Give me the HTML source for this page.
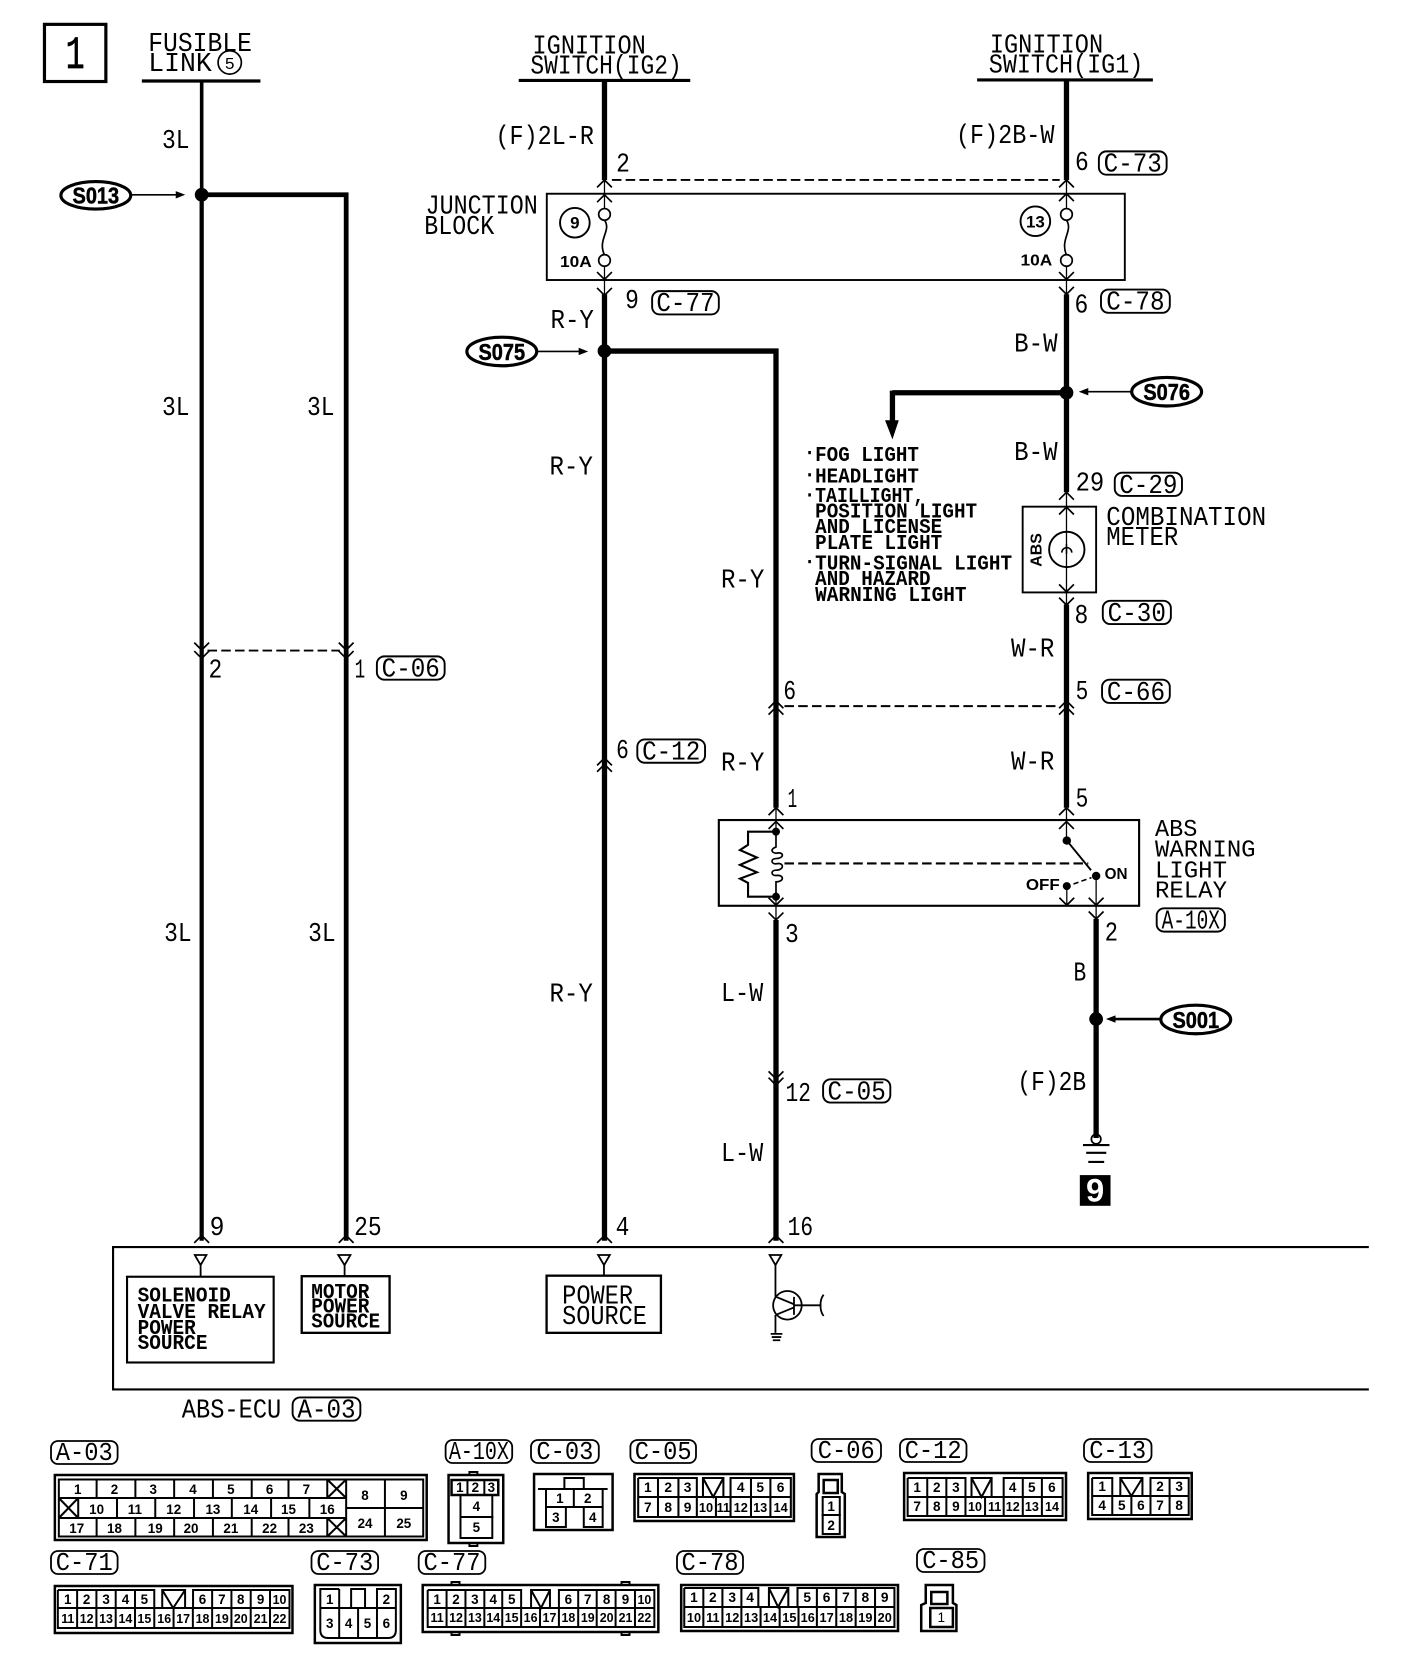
<!DOCTYPE html>
<html><head><meta charset="utf-8"><title>ABS wiring diagram</title>
<style>
html,body{margin:0;padding:0;background:#fff}
svg{display:block}
text{font-family:"Liberation Mono",monospace;fill:#000}
.n{font-family:"Liberation Sans",sans-serif;font-weight:700;font-size:13.5px;text-anchor:middle}
.b{font-family:"Liberation Sans",sans-serif;font-weight:700}
.sp{stroke:#000;stroke-width:.5px}
.w{fill:none;stroke:#000}
.badge{fill:none;stroke:#000;stroke-width:1.8}
.f{font-size:25px}
.s{font-size:20px;font-weight:700}
.c{text-anchor:middle}
.t{font-size:12.5px}
</style></head><body>
<svg xmlns="http://www.w3.org/2000/svg" width="1408" height="1662" viewBox="0 0 1408 1662">
<rect width="1408" height="1662" fill="#fff"/>
<g transform="scale(1.05865)">
<rect x="42" y="23" width="58" height="54" class="w" stroke-width="3"/>
<text x="71" y="64" class="c" style="font-size:44px;stroke:#000;stroke-width:.6px" textLength="18" lengthAdjust="spacingAndGlyphs">1</text>
<path class="w" stroke-width="3" d="M134 76.5H246M490 76H652M923 75.5H1089"/>
<text class="f" x="140" y="48" textLength="98" lengthAdjust="spacingAndGlyphs">FUSIBLE</text>
<text class="f" x="140" y="67" textLength="60" lengthAdjust="spacingAndGlyphs">LINK</text>
<circle cx="217" cy="59" r="11" class="w" stroke-width="1.6"/>
<text x="217" y="65" class="c" style="font-size:16px">5</text>
<text class="f" x="503" y="50.500" textLength="107" lengthAdjust="spacingAndGlyphs">IGNITION</text>
<text class="f" x="501" y="69.500" textLength="143" lengthAdjust="spacingAndGlyphs">SWITCH(IG2)</text>
<text class="f" x="935" y="49.500" textLength="107" lengthAdjust="spacingAndGlyphs">IGNITION</text>
<text class="f" x="934" y="68.500" textLength="146" lengthAdjust="spacingAndGlyphs">SWITCH(IG1)</text>

<!-- wires -->
<path class="w" stroke-width="3.4" d="M190.5 77V184"/>
<path class="w" stroke-width="4" d="M190.5 184V1172"/>
<path class="w" stroke-width="4.5" d="M190.5 184H327V1172"/>
<path class="w" stroke-width="5" d="M571 77V170M571 278V1172M571 331.6H733V763M733 869V1172M1007.4 77V170M1007.4 278V465M1007.4 571V763M1035.4 868V1075M843 371H1007.4M843 369V398"/>
<path class="w" stroke-width="1.2" d="M571 170V197M571 252V278M1007.4 170V197M1007.4 252V278M1007.4 465V571M733 763V786M733 847V869M1007.4 763V794M1035.4 827V868M1007.7 837V855"/>
<path d="M836 397H849L843 415Z"/>
<path class="w" stroke-width="1.8" stroke-dasharray="9 4" d="M578 170H1001M196 614.500H321M741 667H1000"/>
<!-- chevrons -->
<path class="w" stroke-width="1.6" d="M564 177l7-7 7 7M564 191l7-7 7 7M1000.4 177l7-7 7 7M1000.4 190l7-7 7 7M1000.4 472l7-7 7 7M1000.4 486l7-7 7 7M726 669l7-7 7 7M726 675l7-7 7 7M1000.4 669l7-7 7 7M1000.4 675l7-7 7 7M564 723l7-7 7 7M564 729l7-7 7 7M726 770l7-7 7 7M726 783l7-7 7 7M1000.4 770l7-7 7 7M1000.4 783l7-7 7 7M183.5 1174l7-7 7 7M320 1174l7-7 7 7M564 1174l7-7 7 7M726 1174l7-7 7 7M564 257l7 7 7-7M564 272l7 7 7-7M1000.4 257l7 7 7-7M1000.4 271l7 7 7-7M1000.4 552l7 7 7-7M1000.4 564.5l7 7 7-7M183.5 607l7 7 7-7M183.5 615l7 7 7-7M320 607l7 7 7-7M320 615l7 7 7-7M726 848l7 7 7-7M726 862l7 7 7-7M1000.7 848l7 7 7-7M1028.4 848l7 7 7-7M1028.4 861l7 7 7-7M726 1012l7 7 7-7M726 1018l7 7 7-7"/>
<!-- nodes -->
<circle cx="190.5" cy="184" r="6.5"/><circle cx="571" cy="331.6" r="6.5"/><circle cx="1007.4" cy="371" r="6.5"/><circle cx="1035.4" cy="962.6" r="6.5"/>
<!-- splices -->
<g fill="#fff" stroke="#000" stroke-width="3">
<ellipse cx="90.5" cy="184.5" rx="33" ry="13"/><ellipse cx="474" cy="332" rx="33" ry="13.5"/><ellipse cx="1102" cy="370" rx="33" ry="13.5"/><ellipse cx="1129.5" cy="963" rx="33" ry="13.5"/>
</g>
<g style="font-size:22px" text-anchor="middle">
<text class="b sp" x="90.5" y="192" textLength="44" lengthAdjust="spacingAndGlyphs">S013</text>
<text class="b sp" x="474" y="340" textLength="44" lengthAdjust="spacingAndGlyphs">S075</text>
<text class="b sp" x="1102" y="378" textLength="44" lengthAdjust="spacingAndGlyphs">S076</text>
<text class="b sp" x="1129.5" y="971" textLength="44" lengthAdjust="spacingAndGlyphs">S001</text>
</g>
<path class="w" stroke-width="1.5" d="M124 184H168M507 332H548M1068 370H1026"/>
<path class="w" stroke-width="2.4" d="M1096 962.6H1052"/>
<path d="M175 184l-9-3.500v7ZM555.600 332l-9-3.500v7ZM1019 370l9-3.500v7ZM1044.700 962.600l9-3.500v7Z"/>

<!-- junction block -->
<rect x="516.500" y="183" width="546" height="81.500" class="w" stroke-width="1.800"/>
<text class="f" x="402" y="201.500" textLength="106" lengthAdjust="spacingAndGlyphs">JUNCTION</text>
<text class="f" x="400.800" y="221" textLength="66" lengthAdjust="spacingAndGlyphs">BLOCK</text>
<circle cx="543" cy="210.400" r="14" class="w" stroke-width="1.800"/><text x="543" y="216" class="c b" style="font-size:16px">9</text>
<circle cx="978" cy="209" r="14" class="w" stroke-width="1.800"/><text x="978" y="215" class="c b" style="font-size:16px">13</text>
<g class="w" stroke-width="1.600" fill="#fff"><path d="M571 208C578 218 564 226 571 241M1007.400 208C1014 218 1001 226 1007.400 241" fill="none"/>
<circle cx="571" cy="202.500" r="5.500"/><circle cx="571" cy="246" r="5.500"/><circle cx="1007.400" cy="202.500" r="5.500"/><circle cx="1007.400" cy="246" r="5.500"/></g>
<text class="b" x="529" y="252" style="font-size:15px" textLength="30" lengthAdjust="spacingAndGlyphs">10A</text>
<text class="b" x="964" y="251" style="font-size:15px" textLength="30" lengthAdjust="spacingAndGlyphs">10A</text>

<!-- wire labels -->
<g class="f">
<text class="f" x="153" y="140" textLength="26" lengthAdjust="spacingAndGlyphs">3L</text>
<text class="f" x="153" y="392" textLength="26" lengthAdjust="spacingAndGlyphs">3L</text>
<text class="f" x="290" y="392" textLength="26" lengthAdjust="spacingAndGlyphs">3L</text>
<text class="f" x="155" y="889" textLength="26" lengthAdjust="spacingAndGlyphs">3L</text>
<text class="f" x="291" y="889" textLength="26" lengthAdjust="spacingAndGlyphs">3L</text>
<text class="f" x="468" y="136" textLength="93" lengthAdjust="spacingAndGlyphs">(F)2L-R</text>
<text class="f" x="903" y="135" textLength="93" lengthAdjust="spacingAndGlyphs">(F)2B-W</text>
<text class="f" x="520" y="310" textLength="41" lengthAdjust="spacingAndGlyphs">R-Y</text>
<text class="f" x="519" y="448" textLength="41" lengthAdjust="spacingAndGlyphs">R-Y</text>
<text class="f" x="519" y="946" textLength="41" lengthAdjust="spacingAndGlyphs">R-Y</text>
<text class="f" x="681" y="555" textLength="41" lengthAdjust="spacingAndGlyphs">R-Y</text>
<text class="f" x="681" y="728" textLength="41" lengthAdjust="spacingAndGlyphs">R-Y</text>
<text class="f" x="681" y="945.500" textLength="40" lengthAdjust="spacingAndGlyphs">L-W</text>
<text class="f" x="681" y="1096.500" textLength="40" lengthAdjust="spacingAndGlyphs">L-W</text>
<text class="f" x="958" y="332" textLength="41" lengthAdjust="spacingAndGlyphs">B-W</text>
<text class="f" x="958" y="434.500" textLength="41" lengthAdjust="spacingAndGlyphs">B-W</text>
<text class="f" x="955" y="620" textLength="41" lengthAdjust="spacingAndGlyphs">W-R</text>
<text class="f" x="955" y="727" textLength="41" lengthAdjust="spacingAndGlyphs">W-R</text>
<text class="f" x="1014" y="926" textLength="12" lengthAdjust="spacingAndGlyphs">B</text>
<text class="f" x="961" y="1029.500" textLength="65" lengthAdjust="spacingAndGlyphs">(F)2B</text>
<text class="f" x="582" y="162" textLength="13" lengthAdjust="spacingAndGlyphs">2</text>
<text class="f" x="1015.500" y="160.500" textLength="13" lengthAdjust="spacingAndGlyphs">6</text>
<text class="f" x="590.500" y="291" textLength="13" lengthAdjust="spacingAndGlyphs">9</text>
<text class="f" x="1015" y="295" textLength="13" lengthAdjust="spacingAndGlyphs">6</text>
<text class="f" x="1016" y="463.500" textLength="27" lengthAdjust="spacingAndGlyphs">29</text>
<text class="f" x="1015" y="588.500" textLength="13" lengthAdjust="spacingAndGlyphs">8</text>
<text class="f" x="1016" y="660.500" textLength="12" lengthAdjust="spacingAndGlyphs">5</text>
<text class="f" x="740" y="660.500" textLength="12" lengthAdjust="spacingAndGlyphs">6</text>
<text class="f" x="197" y="640" textLength="13" lengthAdjust="spacingAndGlyphs">2</text>
<text class="f" x="335" y="640" textLength="10" lengthAdjust="spacingAndGlyphs">1</text>
<text class="f" x="582" y="716" textLength="12" lengthAdjust="spacingAndGlyphs">6</text>
<text class="f" x="744" y="762.500" textLength="9" lengthAdjust="spacingAndGlyphs">1</text>
<text class="f" x="1016" y="762" textLength="12" lengthAdjust="spacingAndGlyphs">5</text>
<text class="f" x="741.500" y="890" textLength="13" lengthAdjust="spacingAndGlyphs">3</text>
<text class="f" x="1043.500" y="888.500" textLength="12.500" lengthAdjust="spacingAndGlyphs">2</text>
<text class="f" x="742" y="1040" textLength="24" lengthAdjust="spacingAndGlyphs">12</text>
<text class="f" x="198" y="1166.500" textLength="14" lengthAdjust="spacingAndGlyphs">9</text>
<text class="f" x="334.500" y="1166.500" textLength="26" lengthAdjust="spacingAndGlyphs">25</text>
<text class="f" x="581.500" y="1166.500" textLength="13" lengthAdjust="spacingAndGlyphs">4</text>
<text class="f" x="744" y="1166.500" textLength="24" lengthAdjust="spacingAndGlyphs">16</text>
</g>
<!-- badges main -->
<rect class="badge" x="1038" y="143" width="64" height="22" rx="7"/><text class="f c" x="1070" y="162" textLength="55" lengthAdjust="spacingAndGlyphs">C-73</text>
<rect class="badge" x="616" y="275" width="63" height="22" rx="7"/><text class="f c" x="647.500" y="294" textLength="55" lengthAdjust="spacingAndGlyphs">C-77</text>
<rect class="badge" x="1040" y="273.500" width="65" height="22" rx="7"/><text class="f c" x="1072.500" y="292.500" textLength="55" lengthAdjust="spacingAndGlyphs">C-78</text>
<rect class="badge" x="1053" y="446.500" width="63.500" height="22" rx="7"/><text class="f c" x="1084.700" y="465.500" textLength="55" lengthAdjust="spacingAndGlyphs">C-29</text>
<rect class="badge" x="1041.700" y="567.500" width="64.300" height="22" rx="7"/><text class="f c" x="1073.800" y="586.500" textLength="55" lengthAdjust="spacingAndGlyphs">C-30</text>
<rect class="badge" x="1041" y="642" width="64" height="22" rx="7"/><text class="f c" x="1073" y="661" textLength="55" lengthAdjust="spacingAndGlyphs">C-66</text>
<rect class="badge" x="356" y="620" width="64" height="22" rx="7"/><text class="f c" x="388" y="639" textLength="55" lengthAdjust="spacingAndGlyphs">C-06</text>
<rect class="badge" x="602" y="698.500" width="64" height="22" rx="7"/><text class="f c" x="634" y="717.500" textLength="55" lengthAdjust="spacingAndGlyphs">C-12</text>
<rect class="badge" x="1092.600" y="858" width="64.400" height="22" rx="7"/><text class="f c" x="1124.800" y="877" textLength="55" lengthAdjust="spacingAndGlyphs">A-10X</text>
<rect class="badge" x="777.500" y="1019.500" width="63.500" height="22" rx="7"/><text class="f c" x="809.200" y="1038.500" textLength="55" lengthAdjust="spacingAndGlyphs">C-05</text>

<!-- bullet list -->
<g fill="#000"><rect x="763.500" y="426" width="2.500" height="3"/><rect x="763.500" y="447" width="2.500" height="3"/><rect x="763.500" y="466" width="2.500" height="3"/><rect x="763.500" y="529" width="2.500" height="3"/></g>
<text class="s" x="770" y="435.500" textLength="98" lengthAdjust="spacingAndGlyphs">FOG LIGHT</text>
<text class="s" x="770" y="456" textLength="98" lengthAdjust="spacingAndGlyphs">HEADLIGHT</text>
<text class="s" x="770" y="474" textLength="103" lengthAdjust="spacingAndGlyphs">TAILLIGHT,</text>
<text class="s" x="770" y="489" textLength="153" lengthAdjust="spacingAndGlyphs">POSITION LIGHT</text>
<text class="s" x="770" y="503.700" textLength="120" lengthAdjust="spacingAndGlyphs">AND LICENSE</text>
<text class="s" x="770" y="518.800" textLength="120" lengthAdjust="spacingAndGlyphs">PLATE LIGHT</text>
<text class="s" x="770" y="538" textLength="186" lengthAdjust="spacingAndGlyphs">TURN-SIGNAL LIGHT</text>
<text class="s" x="770" y="552.700" textLength="109" lengthAdjust="spacingAndGlyphs">AND HAZARD</text>
<text class="s" x="770" y="567.800" textLength="143" lengthAdjust="spacingAndGlyphs">WARNING LIGHT</text>

<!-- combination meter -->
<rect x="966" y="478.600" width="69.400" height="81" class="w" stroke-width="1.800"/>
<circle cx="1007.700" cy="519" r="16.700" class="w" stroke-width="1.800"/>
<path class="w" stroke-width="1.500" d="M1003 522a4.700 4.700 0 1 1 9.400 0M1007.400 514v9"/>
<text class="b" transform="translate(984,519.500) rotate(-90)" text-anchor="middle" style="font-size:15px">ABS</text>
<text class="f" x="1045" y="496" textLength="151" lengthAdjust="spacingAndGlyphs">COMBINATION</text>
<text class="f" x="1045" y="515" textLength="68" lengthAdjust="spacingAndGlyphs">METER</text>

<!-- relay -->
<rect x="679" y="774.600" width="397" height="81" class="w" stroke-width="2"/>
<circle cx="733" cy="785.600" r="3.800"/><circle cx="733" cy="847" r="3.800"/><circle cx="1007.700" cy="794" r="4"/><circle cx="1035.400" cy="827.500" r="4"/><circle cx="1007.700" cy="837" r="3.800"/>
<path class="w" stroke-width="2" d="M733 785.600H706.600V798L699 803L715 810L699 817L715 824L699 830L706.600 834V847H733"/>
<path class="w" stroke-width="1.600" d="M733 786V800C728 802 728 805 733 806C741 804 741 811 733 811C728 811 728 816 733 816C741 814 741 822 733 822C728 822 728 827 733 827C741 826 741 833 733 833V847"/>
<path class="w" stroke-width="2" stroke-dasharray="9 4" d="M741 815.600H1028"/>
<path class="w" stroke-width="1.800" d="M1007.700 794L1030.600 822"/>
<path class="w" stroke-width="1.500" stroke-dasharray="5 3" d="M1014 835L1031 829"/>
<text class="b" x="1043.400" y="830.400" style="font-size:15px" textLength="21.600" lengthAdjust="spacingAndGlyphs">ON</text>
<text class="b" x="969" y="840.700" style="font-size:15px" textLength="32" lengthAdjust="spacingAndGlyphs">OFF</text>
<text class="f" x="1091" y="789.700" textLength="40" lengthAdjust="spacingAndGlyphs" style="font-size:23px">ABS</text>
<text class="f" x="1091" y="809" textLength="95" lengthAdjust="spacingAndGlyphs" style="font-size:23px">WARNING</text>
<text class="f" x="1091" y="829" textLength="68" lengthAdjust="spacingAndGlyphs" style="font-size:23px">LIGHT</text>
<text class="f" x="1091" y="847.600" textLength="68" lengthAdjust="spacingAndGlyphs" style="font-size:23px">RELAY</text>

<!-- ground -->
<circle cx="1035.400" cy="1076" r="4.500" class="w" stroke-width="1.600"/>
<path class="w" stroke-width="2" d="M1023 1081.600H1048M1026 1089H1045M1028 1097.600H1043"/>
<rect x="1020" y="1110" width="29" height="29"/>
<text class="b" x="1034.500" y="1135" text-anchor="middle" style="font-size:31px;fill:#fff">9</text>

<!-- ECU -->
<path class="w" stroke-width="2" d="M1293 1178H106.800V1312.500H1293"/>
<g class="w" stroke-width="1.700">
<path d="M184 1185.500H195L189.500 1195ZM319.500 1185.500H331L325.500 1195ZM565 1185.500H576L570.500 1195ZM727 1185.500H738L732.500 1195Z"/>
<path d="M189.500 1195V1206M325.500 1195V1206M570.500 1195V1205M732.500 1195V1225M732.500 1242V1259M750 1225V1242M750 1233H776M778 1223C774 1228 774 1238 778 1243M733 1225L750 1232M733 1242L750 1235M728 1260H739M729 1263H738M730 1266H737"/>
<circle cx="743.800" cy="1233" r="13.500"/>
</g>
<rect x="120" y="1206" width="138.500" height="81" class="w" stroke-width="2"/>
<rect x="285" y="1205.500" width="83" height="53.500" class="w" stroke-width="2.200"/>
<rect x="516.300" y="1205" width="108" height="54" class="w" stroke-width="2.200"/>
<g>
<text class="s" x="130" y="1229.600" textLength="88" lengthAdjust="spacingAndGlyphs">SOLENOID</text>
<text class="s" x="130" y="1245" textLength="121" lengthAdjust="spacingAndGlyphs">VALVE RELAY</text>
<text class="s" x="130" y="1260" textLength="55" lengthAdjust="spacingAndGlyphs">POWER</text>
<text class="s" x="130" y="1274.500" textLength="66" lengthAdjust="spacingAndGlyphs">SOURCE</text>
<text class="s" x="294" y="1226" textLength="55" lengthAdjust="spacingAndGlyphs">MOTOR</text>
<text class="s" x="294" y="1240" textLength="55" lengthAdjust="spacingAndGlyphs">POWER</text>
<text class="s" x="294" y="1254" textLength="65" lengthAdjust="spacingAndGlyphs">SOURCE</text>
<text class="f" x="531" y="1231.500" textLength="67" lengthAdjust="spacingAndGlyphs">POWER</text>
<text class="f" x="531" y="1250.500" textLength="80" lengthAdjust="spacingAndGlyphs">SOURCE</text>
</g>
<text class="f" x="171.700" y="1339" textLength="94" lengthAdjust="spacingAndGlyphs">ABS-ECU</text>
<rect class="badge" x="276.400" y="1320" width="64" height="22" rx="7"/><text class="f c" x="308.400" y="1339" textLength="55" lengthAdjust="spacingAndGlyphs">A-03</text>
</g>

<!-- connectors in real px -->
<g>
<rect class="badge" x="51" y="1441" width="66.600" height="23" rx="7"/><text class="c" x="84.300" y="1460" style="font-size:26px" textLength="57" lengthAdjust="spacingAndGlyphs">A-03</text>
<rect class="badge" x="445.600" y="1440" width="66.600" height="23" rx="7"/><text class="c" x="478.900" y="1459" style="font-size:26px" textLength="60" lengthAdjust="spacingAndGlyphs">A-10X</text>
<rect class="badge" x="531" y="1440" width="67.800" height="23" rx="7"/><text class="c" x="564.900" y="1459" style="font-size:26px" textLength="57" lengthAdjust="spacingAndGlyphs">C-03</text>
<rect class="badge" x="630.400" y="1440" width="65.600" height="23" rx="7"/><text class="c" x="663.200" y="1459" style="font-size:26px" textLength="57" lengthAdjust="spacingAndGlyphs">C-05</text>
<rect class="badge" x="811.600" y="1439" width="69.400" height="23" rx="7"/><text class="c" x="846.300" y="1458" style="font-size:26px" textLength="57" lengthAdjust="spacingAndGlyphs">C-06</text>
<rect class="badge" x="900" y="1439" width="66.500" height="23" rx="7"/><text class="c" x="933.200" y="1458" style="font-size:26px" textLength="57" lengthAdjust="spacingAndGlyphs">C-12</text>
<rect class="badge" x="1084" y="1439" width="67.500" height="23" rx="7"/><text class="c" x="1117.700" y="1458" style="font-size:26px" textLength="57" lengthAdjust="spacingAndGlyphs">C-13</text>
<rect class="badge" x="51" y="1551" width="66.600" height="23" rx="7"/><text class="c" x="84.300" y="1570" style="font-size:26px" textLength="57" lengthAdjust="spacingAndGlyphs">C-71</text>
<rect class="badge" x="311.500" y="1551" width="66.600" height="23" rx="7"/><text class="c" x="344.800" y="1570" style="font-size:26px" textLength="57" lengthAdjust="spacingAndGlyphs">C-73</text>
<rect class="badge" x="418.700" y="1551" width="66.600" height="23" rx="7"/><text class="c" x="452" y="1570" style="font-size:26px" textLength="57" lengthAdjust="spacingAndGlyphs">C-77</text>
<rect class="badge" x="677" y="1551" width="66" height="23" rx="7"/><text class="c" x="710" y="1570" style="font-size:26px" textLength="57" lengthAdjust="spacingAndGlyphs">C-78</text>
<rect class="badge" x="917" y="1549" width="67.500" height="23" rx="7"/><text class="c" x="950.700" y="1568" style="font-size:26px" textLength="57" lengthAdjust="spacingAndGlyphs">C-85</text>

<g transform="translate(.174,0) scale(.9942,1)">
<!-- A-03 -->
<rect x="55" y="1475" width="374" height="65" class="w" stroke-width="2.500"/>
<rect x="59" y="1479.500" width="366.500" height="57" class="w" stroke-width="2"/>
<path class="w" stroke-width="2" d="M59 1498H348M59 1518H348M348 1479.500V1536.500M348 1508H425.500M387 1479.500V1536.500M97 1479.500V1498M136 1479.500V1498M175 1479.500V1498M214 1479.500V1498M253 1479.500V1498M290 1479.500V1498M329 1479.500V1498M78.500 1498V1518M117.500 1498V1518M156 1498V1518M195 1498V1518M233 1498V1518M272.500 1498V1518M311 1498V1518M97 1518V1536.500M136 1518V1536.500M175 1518V1536.500M214 1518V1536.500M253 1518V1536.500M290 1518V1536.500M329 1518V1536.500M329 1479.500L348 1498M348 1479.500L329 1498M329 1518L348 1536.500M348 1518L329 1536.500M59 1498L78.500 1518M78.500 1498L59 1518"/>
<text class="n" x="78" y="1494">1</text><text class="n" x="115" y="1494">2</text><text class="n" x="154" y="1494">3</text><text class="n" x="194" y="1494">4</text><text class="n" x="232" y="1494">5</text><text class="n" x="271" y="1494">6</text><text class="n" x="308" y="1494">7</text>
<text class="n" x="97" y="1514">10</text><text class="n" x="135.500" y="1514">11</text><text class="n" x="174.600" y="1514">12</text><text class="n" x="214" y="1514">13</text><text class="n" x="252" y="1514">14</text><text class="n" x="290" y="1514">15</text><text class="n" x="329" y="1514">16</text>
<text class="n" x="77" y="1533">17</text><text class="n" x="115" y="1533">18</text><text class="n" x="156" y="1533">19</text><text class="n" x="192" y="1533">20</text><text class="n" x="232" y="1533">21</text><text class="n" x="271" y="1533">22</text><text class="n" x="308" y="1533">23</text>
<text class="n" x="367" y="1500">8</text><text class="n" x="406" y="1500">9</text><text class="n" x="367" y="1528">24</text><text class="n" x="406" y="1528">25</text>

<!-- C-71 -->
<rect x="55" y="1586" width="239" height="47" class="w" stroke-width="2.500"/>
<path class="w" stroke-width="2" d="M58 1608H291M58 1590H155V1608M58 1590V1628H291V1590H194V1608M77.400 1590V1628M96.800 1590V1628M116.200 1590V1628M135.600 1590V1628M155 1608V1628M174.400 1608V1628M193.800 1608V1628M213.200 1590V1628M232.600 1590V1628M252 1590V1628M271.400 1590V1628M163 1608V1590H186V1608M163 1590L174 1608L186 1590"/>
<text class="n" x="68" y="1604">1</text><text class="n" x="87" y="1604">2</text><text class="n" x="106.500" y="1604">3</text><text class="n" x="126" y="1604">4</text><text class="n" x="145" y="1604">5</text><text class="n" x="203.500" y="1604">6</text><text class="n" x="223" y="1604">7</text><text class="n" x="242" y="1604">8</text><text class="n" x="262" y="1604">9</text><text class="n t" x="281" y="1604">10</text>
<text class="n t" x="68" y="1623">11</text><text class="n t" x="87" y="1623">12</text><text class="n t" x="106.500" y="1623">13</text><text class="n t" x="126" y="1623">14</text><text class="n t" x="145" y="1623">15</text><text class="n t" x="165" y="1623">16</text><text class="n t" x="184" y="1623">17</text><text class="n t" x="203.500" y="1623">18</text><text class="n t" x="223" y="1623">19</text><text class="n t" x="242" y="1623">20</text><text class="n t" x="262" y="1623">21</text><text class="n t" x="281" y="1623">22</text>

<!-- A-10X -->
<rect x="451" y="1475" width="55" height="68" class="w" stroke-width="2.500"/>
<path class="w" stroke-width="2" d="M472 1475v-3h8v3M472 1543v3h8v-3"/>
<rect x="454" y="1480" width="47" height="15" class="w" stroke-width="2.500"/>
<path class="w" stroke-width="2" d="M470 1480V1495M487 1480V1495"/>
<rect x="463" y="1495" width="32" height="22" class="w" stroke-width="2"/><rect x="463" y="1517" width="32" height="21" class="w" stroke-width="2"/>
<text class="n" x="462.400" y="1492">1</text><text class="n" x="478" y="1492">2</text><text class="n" x="494" y="1492">3</text><text class="n" x="479" y="1511">4</text><text class="n" x="479" y="1532">5</text>

<!-- C-03 -->
<rect x="537" y="1474" width="79" height="56" class="w" stroke-width="2.500"/>
<path class="w" stroke-width="2" d="M567.500 1489V1478H587V1489M541 1489H611M549 1489V1527H569V1507M549 1507H606M577 1489V1507M606 1489V1527H587V1507"/>
<text class="n" x="563" y="1503">1</text><text class="n" x="591" y="1503">2</text><text class="n" x="559" y="1522">3</text><text class="n" x="596" y="1522">4</text>

<!-- C-73 -->
<rect x="316.500" y="1585" width="86.500" height="58" class="w" stroke-width="2.500"/>
<path class="w" stroke-width="2" d="M341 1589H322V1630Q322 1638 330 1638H390Q398 1638 398 1630V1589H379V1608M341 1589V1638M360 1608V1638M379 1608V1638M322 1608H398M353 1608V1589H367V1608"/>
<text class="n" x="331.500" y="1604">1</text><text class="n" x="388.500" y="1604">2</text><text class="n" x="331.500" y="1628">3</text><text class="n" x="350.500" y="1628">4</text><text class="n" x="369.500" y="1628">5</text><text class="n" x="388.500" y="1628">6</text>

<!-- C-77 -->
<rect x="425" y="1585" width="237" height="47" class="w" stroke-width="2.500"/>
<path class="w" stroke-width="2" d="M454 1585v-3h8v3M454 1632v3h8v-3M625 1585v-3h8v3M625 1632v3h8v-3M430 1608H658M430 1590H524V1608M430 1590V1627H658V1590H562V1608M449 1590V1627M468 1590V1627M487 1590V1627M505 1590V1627M524 1608V1627M543 1608V1627M562 1608V1627M581.400 1590V1627M600 1590V1627M619 1590V1627M638.500 1590V1627M534 1608V1590H553V1608M534 1590L544 1608L553 1590"/>
<text class="n" x="439.500" y="1604">1</text><text class="n" x="458.500" y="1604">2</text><text class="n" x="477.500" y="1604">3</text><text class="n" x="496" y="1604">4</text><text class="n" x="514.500" y="1604">5</text><text class="n" x="571.500" y="1604">6</text><text class="n" x="591" y="1604">7</text><text class="n" x="610" y="1604">8</text><text class="n" x="629" y="1604">9</text><text class="n t" x="648" y="1604">10</text>
<text class="n t" x="439.500" y="1622">11</text><text class="n t" x="458.500" y="1622">12</text><text class="n t" x="477.500" y="1622">13</text><text class="n t" x="496" y="1622">14</text><text class="n t" x="514.500" y="1622">15</text><text class="n t" x="533.500" y="1622">16</text><text class="n t" x="552.500" y="1622">17</text><text class="n t" x="571.500" y="1622">18</text><text class="n t" x="591" y="1622">19</text><text class="n t" x="610" y="1622">20</text><text class="n t" x="629" y="1622">21</text><text class="n t" x="648" y="1622">22</text>
</g>

<!-- C-05 -->
<g transform="translate(634.5,0) scale(1.0218,1) translate(-638,0)">
<rect x="638" y="1474" width="156" height="47" class="w" stroke-width="2.500"/>
<path class="w" stroke-width="2" d="M641.600 1497H791M641.600 1478H699V1497M641.600 1478V1517H791V1478H732V1497M661 1478V1517M681 1478V1517M699 1497V1517M717.700 1497V1517M732 1478V1517M752 1478V1517M771 1478V1517M705 1497V1478H725V1497M705 1478L715 1497L725 1478"/>
<text class="n" x="651" y="1492">1</text><text class="n" x="671" y="1492">2</text><text class="n" x="690" y="1492">3</text><text class="n" x="742" y="1492">4</text><text class="n" x="761" y="1492">5</text><text class="n" x="781" y="1492">6</text>
<text class="n" x="651" y="1512">7</text><text class="n" x="671" y="1512">8</text><text class="n" x="690" y="1512">9</text><text class="n t" x="708" y="1512">10</text><text class="n t" x="725" y="1512">11</text><text class="n t" x="742" y="1512">12</text><text class="n t" x="761" y="1512">13</text><text class="n t" x="781" y="1512">14</text>
</g>

<!-- C-78 -->
<g transform="translate(681.2,0) scale(1.0202,1) translate(-685,0)">
<rect x="685" y="1585" width="212.500" height="46" class="w" stroke-width="2.500"/>
<path class="w" stroke-width="2" d="M688 1607H894M688 1588H760.600V1607M688 1588V1627H894V1588H799V1607M706.700 1588V1627M725.400 1588V1627M744 1588V1627M762.800 1607V1627M781.500 1607V1627M800 1607V1627M818 1588V1627M837 1588V1627M856 1588V1627M875 1588V1627M771 1607V1588H790V1607M771 1588L780 1607L790 1588"/>
<text class="n" x="697.500" y="1602">1</text><text class="n" x="716" y="1602">2</text><text class="n" x="735" y="1602">3</text><text class="n" x="752.500" y="1602">4</text><text class="n" x="808.500" y="1602">5</text><text class="n" x="827.500" y="1602">6</text><text class="n" x="846.500" y="1602">7</text><text class="n" x="865.500" y="1602">8</text><text class="n" x="884.500" y="1602">9</text>
<text class="n t" x="697.500" y="1622">10</text><text class="n t" x="716" y="1622">11</text><text class="n t" x="735" y="1622">12</text><text class="n t" x="753.500" y="1622">13</text><text class="n t" x="772" y="1622">14</text><text class="n t" x="791" y="1622">15</text><text class="n t" x="809" y="1622">16</text><text class="n t" x="827.500" y="1622">17</text><text class="n t" x="846.500" y="1622">18</text><text class="n t" x="865.500" y="1622">19</text><text class="n t" x="884.500" y="1622">20</text>
</g>

<g transform="translate(-3.885,0) scale(1.00555,1)">
<!-- C-06 -->
<path class="w" stroke-width="2.500" d="M818 1492V1474H841V1492L844 1494V1537H816V1494Z"/>
<rect x="823" y="1480" width="14" height="13" class="w" stroke-width="2.500"/>
<rect x="822" y="1497" width="17" height="18" class="w" stroke-width="2"/><rect x="822" y="1515" width="17" height="19" class="w" stroke-width="2"/>
<text class="n" x="830.500" y="1511">1</text><text class="n" x="830.500" y="1530">2</text>

<!-- C-12 -->
<rect x="903" y="1473" width="161" height="47" class="w" stroke-width="2.500"/>
<path class="w" stroke-width="2" d="M906.500 1497H1060.600M906.500 1478H964V1497M906.500 1478V1516H1060.600V1478H1002V1497M926 1478V1516M945 1478V1516M964 1497V1516M983.500 1497V1516M1002 1478V1516M1021 1478V1516M1040 1478V1516M970 1497V1478H990V1497M970 1478L980 1497L990 1478"/>
<text class="n" x="916" y="1492">1</text><text class="n" x="935.500" y="1492">2</text><text class="n" x="954.500" y="1492">3</text><text class="n" x="1011" y="1492">4</text><text class="n" x="1030" y="1492">5</text><text class="n" x="1050" y="1492">6</text>
<text class="n" x="916" y="1511">7</text><text class="n" x="935.500" y="1511">8</text><text class="n" x="954.500" y="1511">9</text><text class="n t" x="973.500" y="1511">10</text><text class="n t" x="993" y="1511">11</text><text class="n t" x="1011" y="1511">12</text><text class="n t" x="1030" y="1511">13</text><text class="n t" x="1050" y="1511">14</text>

<!-- C-13 -->
<rect x="1086" y="1473" width="103" height="46" class="w" stroke-width="2.500"/>
<path class="w" stroke-width="2" d="M1090 1496H1186M1090 1478H1110V1496M1090 1478V1515H1186V1478H1148V1496M1110 1496V1515M1129 1496V1515M1148 1496V1515M1167 1478V1515M1118 1496V1478H1140V1496M1118 1478L1129 1496L1140 1478"/>
<text class="n" x="1100" y="1491">1</text><text class="n" x="1157.500" y="1491">2</text><text class="n" x="1176.500" y="1491">3</text>
<text class="n" x="1100" y="1510">4</text><text class="n" x="1119.500" y="1510">5</text><text class="n" x="1138.500" y="1510">6</text><text class="n" x="1157.500" y="1510">7</text><text class="n" x="1176.500" y="1510">8</text>

<!-- C-85 -->
<path class="w" stroke-width="2.500" d="M924.500 1603V1585H951.500V1603L955 1605V1631H920V1605Z"/>
<rect x="930" y="1592" width="16" height="12" class="w" stroke-width="2.500"/>
<rect x="929" y="1608" width="22.500" height="19" class="w" stroke-width="2.500"/>
<text class="n" x="940" y="1622" style="font-weight:400">1</text>
</g>
</g>
</svg>
</body></html>
